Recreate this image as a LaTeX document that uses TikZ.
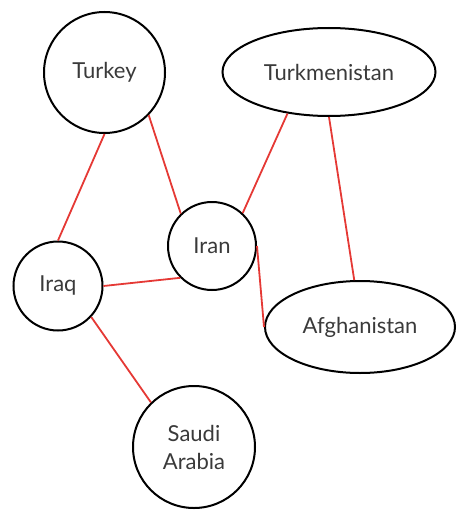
\documentclass[tikz,border=0pt]{standalone}
\usepackage{fontspec}
\setmainfont{Lato}
\usetikzlibrary{shapes.geometric}
\definecolor{edgered}{RGB}{229,57,53}
\definecolor{labelgray}{RGB}{58,58,58}
\begin{document}
\begin{tikzpicture}[x=1pt, y=-1pt,
    country/.style={draw, line width=2pt, inner sep=0pt, text=labelgray,
      font=\fontsize{22}{28}\selectfont, align=center},
    round/.style={country, circle, minimum size=#1},
    oval/.style={country, ellipse, minimum width=#1},
    border/.style={draw=edgered, line width=1.8pt}]
    \useasboundingbox (0,0) rectangle (459,516);

    % countries
    \node[round=121] (tur) at (104.5,72.5) {Turkey};
    \node[oval=213, minimum height=88] (tkm) at (329,72) {Turkmenistan};
    \node[round=88] (irn) at (212,246) {Iran};
    \node[round=89] (irq) at (58,286) {Iraq};
    \node[oval=190, minimum height=92] (afg) at (360,327) {Afghanistan};
    \node[round=122] (sau) at (194,447) {Saudi\\Arabia};

    % shared borders
    \draw[border] (tur.-90) -- (irq.90);
    \draw[border] (tur.-44) -- (irn.134);
    \draw[border] (irn.47) -- (tkm.-135);
    \draw[border] (tkm.-90) -- (afg.97);
    \draw[border] (irn.0) -- (afg.180);
    \draw[border] (irq.0) -- (irn.-135);
    \draw[border] (irq.-43) -- (sau.134);

  \end{tikzpicture}
\end{document}
